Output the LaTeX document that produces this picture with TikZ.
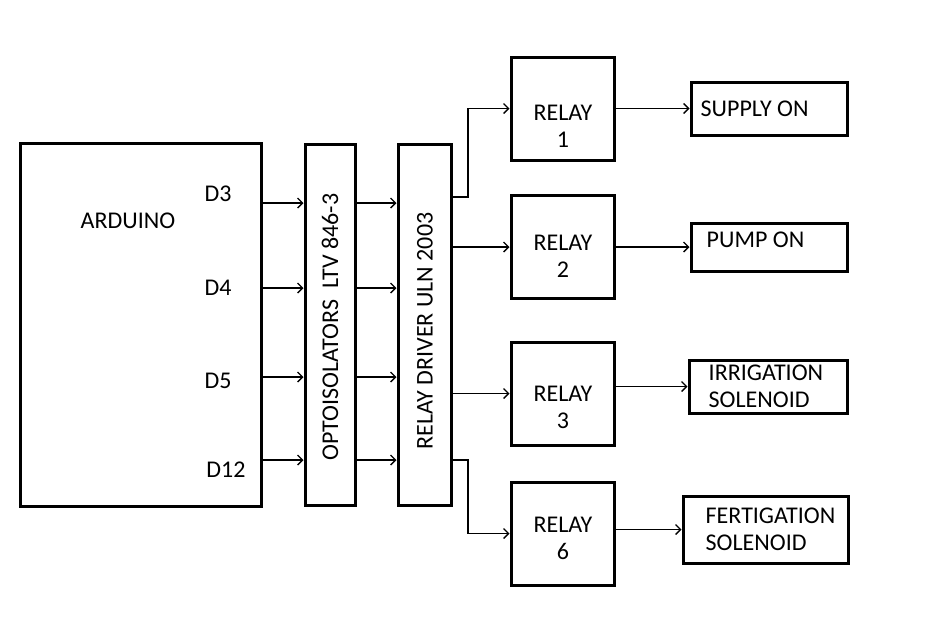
\documentclass[tikz,border=0pt]{standalone}
\usepackage{fontspec}
\setmainfont{Carlito}
\usetikzlibrary{positioning,arrows.meta}

\begin{document}
\begin{tikzpicture}[x=1pt,y=-1pt,
		font=\fontsize{24}{27}\selectfont,
		box/.style={draw,line width=3pt,inner sep=0pt},
		relay/.style={box,minimum width=103pt,minimum height=103pt},
		lbl/.style={inner sep=0pt,align=center},
		arr/.style={line width=1.3pt,-{Straight Barb[length=5pt,width=10pt]}}]
		\useasboundingbox (0,0) rectangle (946,622);
		% blocks
		\node[box,minimum width=241pt,minimum height=363pt] (arduino) at (140.5,324.5) {};
		\node[lbl] (ard) at (128,221) {ARDUINO};
		\node[lbl] (d3) at (218,194) {D3};
		\node[lbl] (d4) at (218,288) {D4};
		\node[lbl] (d5) at (218,381) {D5};
		\node[lbl] (d12) at (226,470) {D12};
		\node[box,minimum width=50pt,minimum height=361pt] (opto) at (330,325) {};
		\node[lbl,rotate=90] (optotxt) at (330,327) {OPTOISOLATORS\ \ LTV 846-3};
		\node[box,minimum width=53pt,minimum height=361pt] (drv) at (424.5,325) {};
		\node[lbl,rotate=90] (drvtxt) at (425,331) {RELAY DRIVER ULN 2003};
		\node[relay] (rel1) at (562.5,108.5) {};
		\node[lbl] (rel1txt) at (563,126) {RELAY\\1};
		\node[relay] (rel2) at (562.5,247) {};
		\node[lbl] (rel2txt) at (563,256) {RELAY\\2};
		\node[relay] (rel3) at (562.5,393.5) {};
		\node[lbl] (rel3txt) at (563,407) {RELAY\\3};
		\node[relay] (rel6) at (562.5,533.5) {};
		\node[lbl] (rel6txt) at (563,538) {RELAY\\6};
		% outputs
		\node[box,minimum width=156pt,minimum height=53pt] (supply) at (769,108.5) {};
		\node[lbl,right=11pt of supply.west] (supplytxt) {SUPPLY ON};
		\node[box,minimum width=156pt,minimum height=48pt] (pump) at (769,247) {};
		\node[lbl,right=17pt of pump.west,yshift=7pt] (pumptxt) {PUMP ON};
		\node[box,minimum width=158pt,minimum height=53pt] (irr) at (768,386.5) {};
		\node[lbl,right=21pt of irr.west,align=left] (irrtxt) {IRRIGATION\\SOLENOID};
		\node[box,minimum width=165pt,minimum height=67pt] (fert) at (765.5,529.5) {};
		\node[lbl,right=24pt of fert.west,align=left] (ferttxt) {FERTIGATION\\SOLENOID};
		% signal lines
		\foreach \y in {203,288,377,460} {
			\coordinate (p) at (0,\y);
			\draw[arr] (p -| arduino.east) -- (p -| opto.west);
			\draw[arr] (p -| opto.east) -- (p -| drv.west);
		}
		\coordinate (bend) at (468,0);
		\coordinate (q1) at (0,197);
		\coordinate (q6) at (0,460);
		\draw[arr] (q1 -| drv.east) -- (q1 -| bend) |- (rel1.west);
		\draw[arr] (drv.east |- rel2.west) -- (rel2.west);
		\draw[arr] (drv.east |- rel3.west) -- (rel3.west);
		\draw[arr] (q6 -| drv.east) -- (q6 -| bend) |- (rel6.west);
		\draw[arr] (rel1.east) -- (rel1.east -| supply.west);
		\draw[arr] (rel2.east) -- (rel2.east -| pump.west);
		\draw[arr] (rel3.east |- irr.west) -- (irr.west);
		\draw[arr] (rel6.east |- fert.west) -- (fert.west);
		\end{tikzpicture}
\end{document}
